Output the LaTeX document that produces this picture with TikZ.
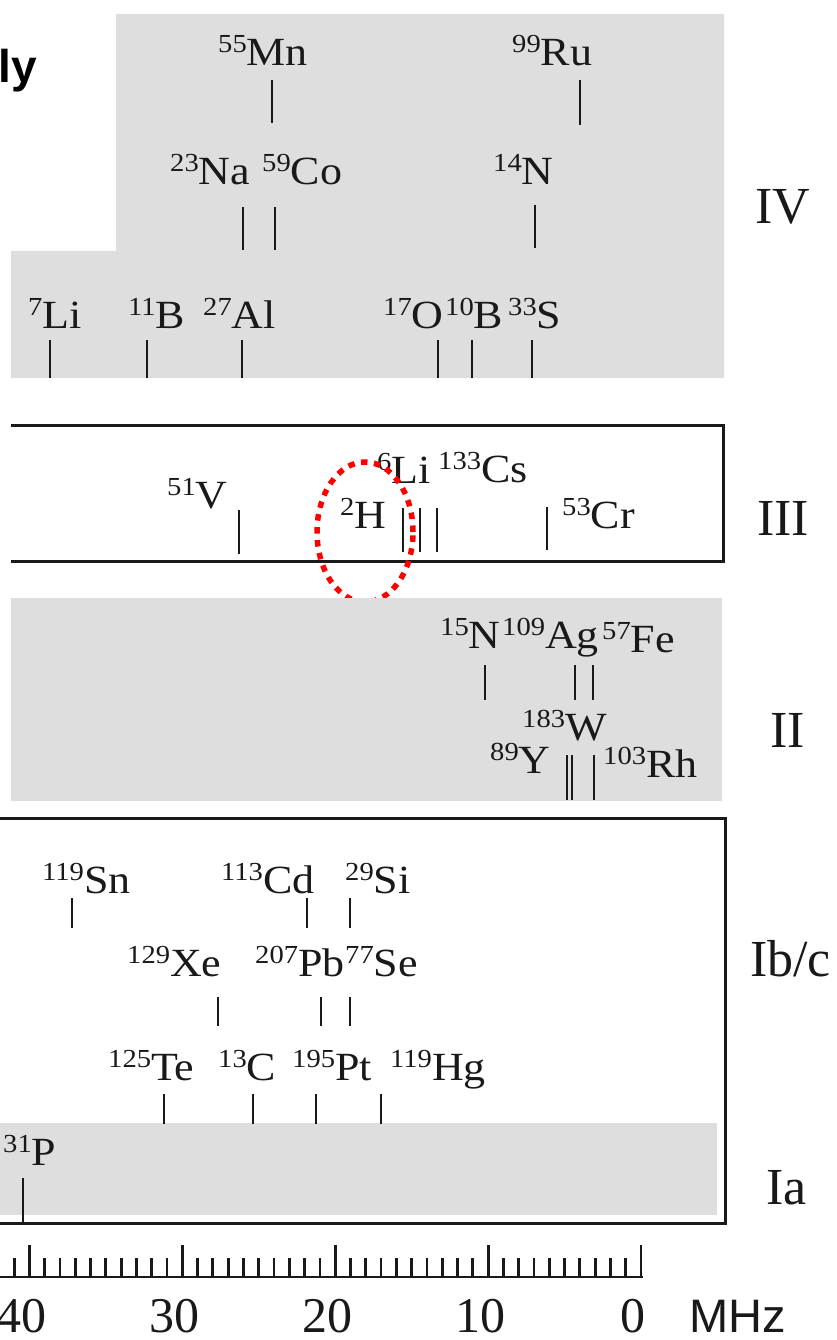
\documentclass[tikz,border=0pt]{standalone}
\usepackage{fontspec}
\setmainfont{Liberation Serif}
\setsansfont{Liberation Sans}
\newfontfamily\labfont[FakeStretch=1.1]{Liberation Serif}
\definecolor{bg}{RGB}{222,222,222}
\definecolor{ink}{RGB}{25,25,25}
\newcommand{\nuc}[2]{\raisebox{13pt}{\fontsize{26}{26}\selectfont #1}#2}
\begin{document}
\begin{tikzpicture}[x=1pt,y=-1pt,
  nlab/.style={anchor=base west,inner sep=0pt,text=ink,font=\labfont\fontsize{40}{40}\selectfont},
  rlab/.style={anchor=base west,inner sep=0pt,text=ink,font=\fontsize{52}{52}\selectfont},
  alab/.style={anchor=base,inner sep=0pt,text=ink,font=\fontsize{50}{50}\selectfont},
  spk/.style={draw=ink,line width=2.8pt},
  axt/.style={draw=ink,line width=2.8pt},
  frame/.style={draw=ink,line width=3pt},
  band/.style={fill=bg,draw=none}]
\useasboundingbox (0,0) rectangle (836,1340);

% ---------- group IV ----------
\path[band] (116,14) -- (724,14) -- (724,378) -- (11,378) -- (11,251) -- (116,251) -- cycle;
\node[anchor=base east,inner sep=0pt,font=\sffamily\bfseries\fontsize{46}{46}\selectfont] (ly) at (37,83) {ly};
\node[nlab] (mn) at (218,66) {\nuc{55}{Mn}};
\node[nlab] (ru) at (512,66) {\nuc{99}{Ru}};
\node[nlab] (na) at (170,185) {\nuc{23}{Na}};
\node[nlab] (co) at (262,185) {\nuc{59}{Co}};
\node[nlab] (n14) at (493,185) {\nuc{14}{N}};
\node[nlab] (li7) at (28,328) {\nuc{7}{Li}};
\node[nlab] (b11) at (128,328) {\nuc{11}{B}};
\node[nlab] (al) at (203,328) {\nuc{27}{Al}};
\node[nlab] (o17) at (383,328) {\nuc{17}{O}};
\node[nlab] (b10) at (445,328) {\nuc{10}{B}};
\node[nlab] (s33) at (508,328) {\nuc{33}{S}};
\node[rlab] (gIV) at (755,224) {IV};
\foreach \x/\a/\b in {272/80/123, 580/80/125, 243/207/250, 275/207/250, 535/205/248,
  50/340/378, 147/340/378, 242/340/378, 438/340/378, 472/340/378, 532/340/378}
  \draw[spk] (\x,\a) -- (\x,\b);

% ---------- group III ----------
\draw[frame] (11,425) -- (723,425) -- (723,561) -- (11,561);
\node[nlab] (v51) at (167,508) {\nuc{51}{V}};
\node[nlab] (h2) at (340,528) {\nuc{2}{H}};
\node[nlab] (li6) at (377,483) {\nuc{6}{Li}};
\node[nlab] (cs) at (438,482) {\nuc{133}{Cs}};
\node[nlab] (cr) at (562,528) {\nuc{53}{Cr}};
\node[rlab] (gIII) at (757,535) {III};
\foreach \x/\a/\b in {239/510/554, 403/508/552, 420/508/552, 437/508/552, 547/507/550}
  \draw[spk] (\x,\a) -- (\x,\b);
\draw[red,line width=5.5pt,dash pattern=on 6.5pt off 6.5pt] (365,532) ellipse [x radius=48pt,y radius=70pt];

% ---------- group II ----------
\path[band] (11,598) rectangle (722,801);
\node[nlab] (n15) at (440,648) {\nuc{15}{N}};
\node[nlab] (ag) at (502,648) {\nuc{109}{Ag}};
\node[nlab] (fe) at (602,652) {\nuc{57}{Fe}};
\node[nlab] (w) at (522,740) {\nuc{183}{W}};
\node[nlab] (y89) at (490,773) {\nuc{89}{Y}};
\node[nlab] (rh) at (603,777) {\nuc{103}{Rh}};
\node[rlab] (gII) at (770,747) {II};
\foreach \x/\a/\b in {485/665/700, 575/665/700, 593/665/700, 567/755/800, 572/755/800, 594/755/800}
  \draw[spk] (\x,\a) -- (\x,\b);

% ---------- groups Ib/c and Ia ----------
\path[band] (-5,1123) rectangle (717,1215);
\draw[frame] (-5,818) -- (725,818) -- (725,1223) -- (-5,1223);
\node[nlab] (sn) at (42,893) {\nuc{119}{Sn}};
\node[nlab] (cd) at (221,893) {\nuc{113}{Cd}};
\node[nlab] (si) at (345,893) {\nuc{29}{Si}};
\node[nlab] (xe) at (127,976) {\nuc{129}{Xe}};
\node[nlab] (pb) at (255,976) {\nuc{207}{Pb}};
\node[nlab] (se) at (345,976) {\nuc{77}{Se}};
\node[nlab] (te) at (108,1080) {\nuc{125}{Te}};
\node[nlab] (c13) at (218,1080) {\nuc{13}{C}};
\node[nlab] (pt) at (292,1080) {\nuc{195}{Pt}};
\node[nlab] (hg) at (390,1080) {\nuc{119}{Hg}};
\node[nlab] (p31) at (3,1165) {\nuc{31}{P}};
\node[rlab] (gIb) at (750,976) {Ib/c};
\node[rlab] (gIa) at (766,1204) {Ia};
\foreach \x/\a/\b in {72/898/928, 307/898/928, 350/898/928,
  218/997/1026, 321/997/1026, 350/997/1026,
  164/1094/1124, 253/1094/1124, 316/1094/1124, 381/1094/1124,
  23/1178/1223}
  \draw[spk] (\x,\a) -- (\x,\b);

% ---------- frequency axis ----------
\draw[axt] (-2,1277) -- (642.5,1277);
\foreach \f in {0,...,42}
  \draw[axt] ({641-15.29*\f},1277) -- ++(0,-19);
\foreach \f in {0,10,20,30,40}
  \draw[axt] ({641-15.29*\f},1277) -- ++(0,-32);
\foreach \f in {0,10,20,30,40}
  \node[alab] (ax\f) at ({633-15.29*\f},1332) {\f};
\node[anchor=base west,inner sep=0pt,text=ink,font=\sffamily\fontsize{47}{47}\selectfont] (mhz) at (689,1332) {MHz};
\end{tikzpicture}
\end{document}
